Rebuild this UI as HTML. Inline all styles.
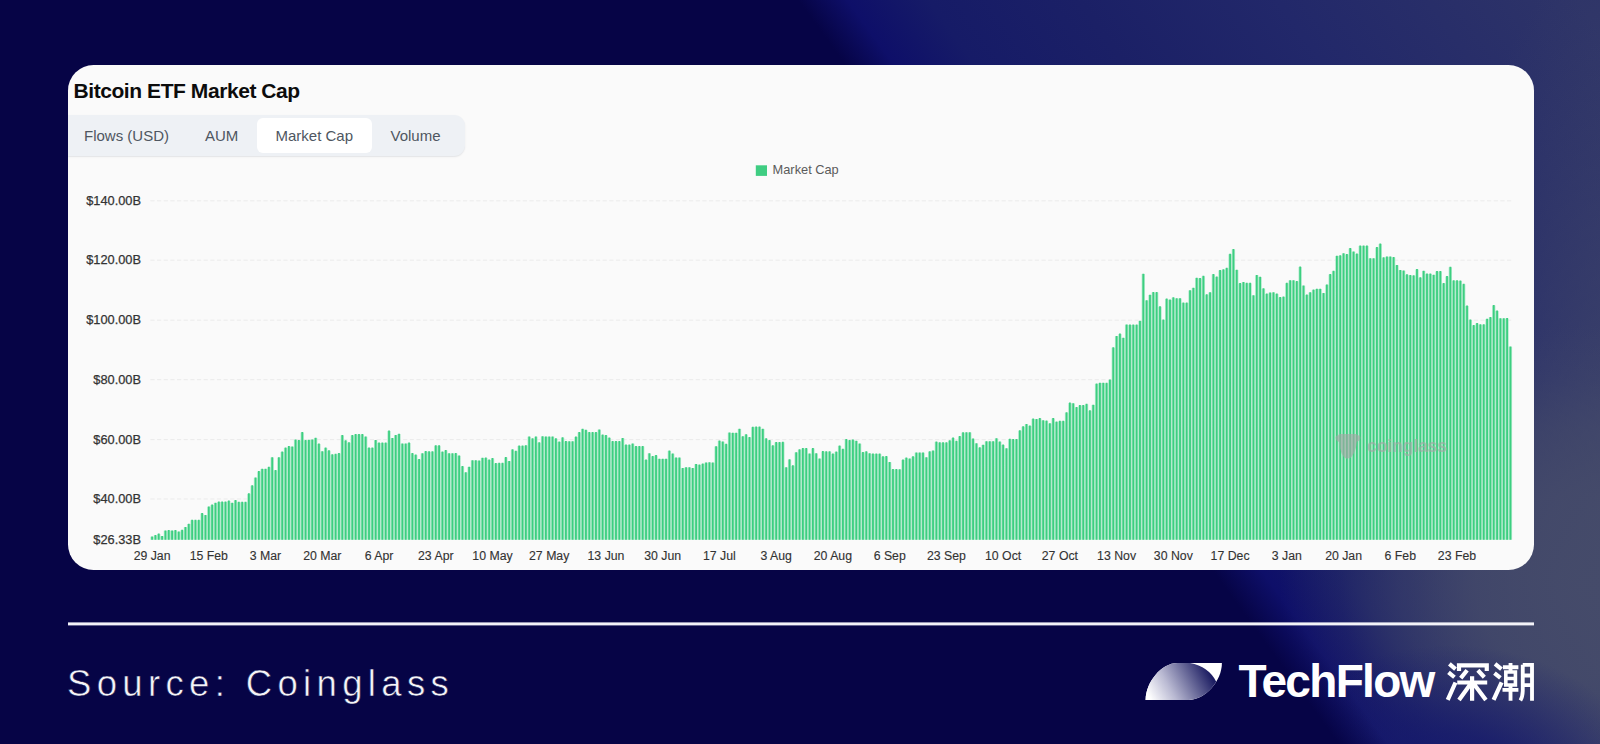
<!DOCTYPE html>
<html><head><meta charset="utf-8"><title>Bitcoin ETF Market Cap</title>
<style>
html,body{margin:0;padding:0}
body{width:1600px;height:744px;overflow:hidden;position:relative;font-family:"Liberation Sans",sans-serif;background:#060446}
#bg{position:absolute;left:0;top:0;width:1600px;height:744px;
background:
linear-gradient(54deg,#060446 0,#060446 1083px,rgba(6,4,70,0) 1123px),
radial-gradient(ellipse 200px 150px at 1450px 795px,rgba(22,26,108,.95) 0,rgba(22,26,108,.8) 40%,rgba(22,26,108,0) 100%),
radial-gradient(ellipse 300px 260px at 1580px 585px,rgba(70,76,106,.9) 0,rgba(70,76,106,.82) 35%,rgba(70,76,106,.55) 60%,rgba(70,76,106,.2) 80%,rgba(70,76,106,0) 100%),
radial-gradient(ellipse 230px 660px at 1640px 590px,rgba(70,76,106,.9) 0,rgba(70,76,106,.66) 30%,rgba(70,76,106,.38) 60%,rgba(70,76,106,.08) 90%,rgba(70,76,106,0) 100%),
linear-gradient(54deg,#0e0f69 1123px,#161b67 1188px,#1b2066 1310px,#22286a 1471px,#2e3468 1714px);}
#card{position:absolute;left:68px;top:65px;width:1466px;height:504.5px;background:#fafafa;border-radius:25.5px;overflow:hidden}
#title{position:absolute;left:5.5px;top:13.8px;font-weight:bold;font-size:21px;letter-spacing:-.43px;color:#0c0c0c;white-space:nowrap;line-height:24px}
#tabs{position:absolute;left:0;top:50px;width:397px;height:41px;background:#eef1f5;border-radius:0 11px 11px 0;box-shadow:0 1px 1.5px rgba(120,130,140,.18)}
#tabs span{position:absolute;top:0;height:41px;line-height:41px;font-size:15px;color:#4e5661;white-space:nowrap}
#act{position:absolute;left:188.5px;top:3.2px;width:115.5px;height:35.3px;background:#fff;border-radius:6px}
svg{position:absolute;left:0;top:0}
#src{position:absolute;left:67px;top:661.500px;font-size:36.5px;letter-spacing:5.35px;color:#f4f4f8;white-space:nowrap;line-height:44px;-webkit-text-stroke:.55px #060446}
#tf{position:absolute;left:1238.500px;top:656px;font-weight:bold;font-size:46px;letter-spacing:-1.7px;color:#fff;white-space:nowrap;line-height:50px}
</style></head><body>
<div id="bg"></div>
<div id="card">
<div id="title">Bitcoin ETF Market Cap</div>
<div id="tabs"><div id="act"></div><span style="left:16px">Flows (USD)</span><span style="left:137px">AUM</span><span style="left:207.5px">Market Cap</span><span style="left:322.5px">Volume</span></div>
</div>
<svg width="1600" height="744" viewBox="0 0 1600 744" font-family="Liberation Sans, sans-serif">
<g stroke="#ebebeb" stroke-width="1" stroke-dasharray="4.2 2.45"><line x1="150.4" x2="1512" y1="200.8" y2="200.8"/><line x1="150.4" x2="1512" y1="260.2" y2="260.2"/><line x1="150.4" x2="1512" y1="320.2" y2="320.2"/><line x1="150.4" x2="1512" y1="379.7" y2="379.7"/><line x1="150.4" x2="1512" y1="439.6" y2="439.6"/><line x1="150.4" x2="1512" y1="499.0" y2="499.0"/></g>
<g font-size="12.8" fill="#333" stroke="#333" stroke-width=".25" text-anchor="end"><text x="141" y="204.8">$140.00B</text><text x="141" y="264.2">$120.00B</text><text x="141" y="324.2">$100.00B</text><text x="141" y="383.7">$80.00B</text><text x="141" y="443.6">$60.00B</text><text x="141" y="503.0">$40.00B</text><text x="141" y="544.2">$26.33B</text></g>
<g font-size="12.3" fill="#333" stroke="#333" stroke-width=".12" text-anchor="middle"><text x="152.1" y="559.8">29 Jan</text><text x="208.8" y="559.8">15 Feb</text><text x="265.5" y="559.8">3 Mar</text><text x="322.3" y="559.8">20 Mar</text><text x="379.0" y="559.8">6 Apr</text><text x="435.8" y="559.8">23 Apr</text><text x="492.5" y="559.8">10 May</text><text x="549.2" y="559.8">27 May</text><text x="606.0" y="559.8">13 Jun</text><text x="662.7" y="559.8">30 Jun</text><text x="719.4" y="559.8">17 Jul</text><text x="776.2" y="559.8">3 Aug</text><text x="832.9" y="559.8">20 Aug</text><text x="889.7" y="559.8">6 Sep</text><text x="946.4" y="559.8">23 Sep</text><text x="1003.1" y="559.8">10 Oct</text><text x="1059.9" y="559.8">27 Oct</text><text x="1116.6" y="559.8">13 Nov</text><text x="1173.3" y="559.8">30 Nov</text><text x="1230.1" y="559.8">17 Dec</text><text x="1286.8" y="559.8">3 Jan</text><text x="1343.6" y="559.8">20 Jan</text><text x="1400.3" y="559.8">6 Feb</text><text x="1457.0" y="559.8">23 Feb</text></g>
<rect x="755.8" y="165.3" width="11.2" height="10.6" fill="#3fcd82"/>
<text x="772.6" y="173.9" font-size="12.8" fill="#5a5a5a">Market Cap</text>
<path d="M150.40 539.8V536.8h3.34V539.8zM153.74 539.8V535.4h3.34V539.8zM157.07 539.8V533.9h3.34V539.8zM160.41 539.8V536.3h3.34V539.8zM163.75 539.8V530.8h3.34V539.8zM167.09 539.8V530.4h3.34V539.8zM170.42 539.8V530.8h3.34V539.8zM173.76 539.8V530.4h3.34V539.8zM177.10 539.8V531.8h3.34V539.8zM180.44 539.8V530.2h3.34V539.8zM183.77 539.8V527.3h3.34V539.8zM187.11 539.8V524.1h3.34V539.8zM190.45 539.8V520.2h3.34V539.8zM193.79 539.8V520.2h3.34V539.8zM197.12 539.8V520.2h3.34V539.8zM200.46 539.8V513.4h3.34V539.8zM203.80 539.8V515.3h3.34V539.8zM207.14 539.8V506.8h3.34V539.8zM210.47 539.8V505.0h3.34V539.8zM213.81 539.8V503.1h3.34V539.8zM217.15 539.8V502.0h3.34V539.8zM220.49 539.8V502.0h3.34V539.8zM223.82 539.8V502.0h3.34V539.8zM227.16 539.8V500.9h3.34V539.8zM230.50 539.8V503.1h3.34V539.8zM233.84 539.8V500.5h3.34V539.8zM237.17 539.8V502.2h3.34V539.8zM240.51 539.8V502.2h3.34V539.8zM243.85 539.8V502.2h3.34V539.8zM247.19 539.8V493.7h3.34V539.8zM250.52 539.8V485.7h3.34V539.8zM253.86 539.8V477.8h3.34V539.8zM257.20 539.8V471.5h3.34V539.8zM260.54 539.8V469.1h3.34V539.8zM263.87 539.8V469.1h3.34V539.8zM267.21 539.8V467.2h3.34V539.8zM270.55 539.8V457.6h3.34V539.8zM273.89 539.8V470.4h3.34V539.8zM277.22 539.8V457.6h3.34V539.8zM280.56 539.8V452.0h3.34V539.8zM283.90 539.8V447.9h3.34V539.8zM287.24 539.8V446.5h3.34V539.8zM290.57 539.8V446.8h3.34V539.8zM293.91 539.8V439.8h3.34V539.8zM297.25 539.8V440.4h3.34V539.8zM300.59 539.8V432.4h3.34V539.8zM303.92 539.8V440.4h3.34V539.8zM307.26 539.8V440.1h3.34V539.8zM310.60 539.8V439.8h3.34V539.8zM313.94 539.8V438.1h3.34V539.8zM317.27 539.8V443.9h3.34V539.8zM320.61 539.8V451.6h3.34V539.8zM323.95 539.8V447.9h3.34V539.8zM327.29 539.8V450.7h3.34V539.8zM330.62 539.8V454.7h3.34V539.8zM333.96 539.8V454.2h3.34V539.8zM337.30 539.8V453.5h3.34V539.8zM340.64 539.8V435.4h3.34V539.8zM343.97 539.8V440.7h3.34V539.8zM347.31 539.8V442.7h3.34V539.8zM350.65 539.8V435.4h3.34V539.8zM353.99 539.8V434.4h3.34V539.8zM357.32 539.8V434.4h3.34V539.8zM360.66 539.8V434.4h3.34V539.8zM364.00 539.8V436.8h3.34V539.8zM367.34 539.8V447.9h3.34V539.8zM370.67 539.8V447.9h3.34V539.8zM374.01 539.8V440.3h3.34V539.8zM377.35 539.8V442.9h3.34V539.8zM380.69 539.8V442.9h3.34V539.8zM384.02 539.8V442.9h3.34V539.8zM387.36 539.8V430.9h3.34V539.8zM390.70 539.8V438.3h3.34V539.8zM394.04 539.8V435.3h3.34V539.8zM397.37 539.8V434.1h3.34V539.8zM400.71 539.8V443.8h3.34V539.8zM404.05 539.8V443.8h3.34V539.8zM407.39 539.8V442.9h3.34V539.8zM410.72 539.8V453.4h3.34V539.8zM414.06 539.8V454.9h3.34V539.8zM417.40 539.8V459.5h3.34V539.8zM420.74 539.8V453.6h3.34V539.8zM424.07 539.8V451.4h3.34V539.8zM427.41 539.8V451.7h3.34V539.8zM430.75 539.8V451.7h3.34V539.8zM434.09 539.8V445.7h3.34V539.8zM437.42 539.8V445.7h3.34V539.8zM440.76 539.8V451.9h3.34V539.8zM444.10 539.8V450.5h3.34V539.8zM447.44 539.8V453.6h3.34V539.8zM450.77 539.8V453.6h3.34V539.8zM454.11 539.8V453.4h3.34V539.8zM457.45 539.8V455.8h3.34V539.8zM460.79 539.8V466.5h3.34V539.8zM464.12 539.8V472.6h3.34V539.8zM467.46 539.8V467.1h3.34V539.8zM470.80 539.8V460.6h3.34V539.8zM474.14 539.8V460.6h3.34V539.8zM477.47 539.8V460.8h3.34V539.8zM480.81 539.8V458.1h3.34V539.8zM484.15 539.8V458.0h3.34V539.8zM487.49 539.8V460.0h3.34V539.8zM490.82 539.8V458.4h3.34V539.8zM494.16 539.8V463.4h3.34V539.8zM497.50 539.8V463.2h3.34V539.8zM500.84 539.8V463.2h3.34V539.8zM504.17 539.8V457.5h3.34V539.8zM507.51 539.8V461.3h3.34V539.8zM510.85 539.8V449.7h3.34V539.8zM514.19 539.8V451.2h3.34V539.8zM517.52 539.8V445.9h3.34V539.8zM520.86 539.8V445.9h3.34V539.8zM524.20 539.8V445.6h3.34V539.8zM527.54 539.8V436.8h3.34V539.8zM530.87 539.8V438.7h3.34V539.8zM534.21 539.8V436.8h3.34V539.8zM537.55 539.8V442.7h3.34V539.8zM540.89 539.8V436.6h3.34V539.8zM544.22 539.8V436.8h3.34V539.8zM547.56 539.8V436.8h3.34V539.8zM550.90 539.8V436.8h3.34V539.8zM554.24 539.8V438.7h3.34V539.8zM557.57 539.8V442.0h3.34V539.8zM560.91 539.8V437.7h3.34V539.8zM564.25 539.8V441.4h3.34V539.8zM567.59 539.8V441.6h3.34V539.8zM570.92 539.8V441.6h3.34V539.8zM574.26 539.8V437.0h3.34V539.8zM577.60 539.8V432.4h3.34V539.8zM580.94 539.8V429.1h3.34V539.8zM584.27 539.8V430.2h3.34V539.8zM587.61 539.8V432.5h3.34V539.8zM590.95 539.8V432.5h3.34V539.8zM594.29 539.8V432.5h3.34V539.8zM597.62 539.8V429.8h3.34V539.8zM600.96 539.8V435.0h3.34V539.8zM604.30 539.8V435.4h3.34V539.8zM607.64 539.8V438.0h3.34V539.8zM610.97 539.8V441.4h3.34V539.8zM614.31 539.8V441.4h3.34V539.8zM617.65 539.8V441.4h3.34V539.8zM620.99 539.8V438.3h3.34V539.8zM624.32 539.8V445.0h3.34V539.8zM627.66 539.8V445.0h3.34V539.8zM631.00 539.8V443.8h3.34V539.8zM634.34 539.8V446.4h3.34V539.8zM637.67 539.8V446.4h3.34V539.8zM641.01 539.8V446.4h3.34V539.8zM644.35 539.8V459.9h3.34V539.8zM647.69 539.8V453.6h3.34V539.8zM651.02 539.8V456.4h3.34V539.8zM654.36 539.8V455.5h3.34V539.8zM657.70 539.8V459.1h3.34V539.8zM661.04 539.8V459.1h3.34V539.8zM664.37 539.8V459.1h3.34V539.8zM667.71 539.8V451.0h3.34V539.8zM671.05 539.8V453.8h3.34V539.8zM674.39 539.8V457.8h3.34V539.8zM677.72 539.8V457.8h3.34V539.8zM681.06 539.8V468.3h3.34V539.8zM684.40 539.8V467.6h3.34V539.8zM687.74 539.8V467.6h3.34V539.8zM691.07 539.8V468.3h3.34V539.8zM694.41 539.8V464.3h3.34V539.8zM697.75 539.8V465.0h3.34V539.8zM701.09 539.8V463.9h3.34V539.8zM704.42 539.8V462.8h3.34V539.8zM707.76 539.8V462.6h3.34V539.8zM711.10 539.8V462.8h3.34V539.8zM714.44 539.8V446.6h3.34V539.8zM717.77 539.8V440.9h3.34V539.8zM721.11 539.8V441.8h3.34V539.8zM724.45 539.8V444.2h3.34V539.8zM727.79 539.8V432.8h3.34V539.8zM731.12 539.8V433.1h3.34V539.8zM734.46 539.8V433.1h3.34V539.8zM737.80 539.8V429.1h3.34V539.8zM741.14 539.8V436.6h3.34V539.8zM744.47 539.8V434.6h3.34V539.8zM747.81 539.8V437.4h3.34V539.8zM751.15 539.8V427.2h3.34V539.8zM754.49 539.8V427.0h3.34V539.8zM757.82 539.8V427.0h3.34V539.8zM761.16 539.8V429.1h3.34V539.8zM764.50 539.8V438.7h3.34V539.8zM767.84 539.8V440.5h3.34V539.8zM771.17 539.8V445.7h3.34V539.8zM774.51 539.8V442.5h3.34V539.8zM777.85 539.8V442.5h3.34V539.8zM781.19 539.8V442.2h3.34V539.8zM784.52 539.8V467.6h3.34V539.8zM787.86 539.8V459.7h3.34V539.8zM791.20 539.8V465.7h3.34V539.8zM794.54 539.8V452.6h3.34V539.8zM797.87 539.8V449.7h3.34V539.8zM801.21 539.8V448.5h3.34V539.8zM804.55 539.8V448.5h3.34V539.8zM807.89 539.8V453.8h3.34V539.8zM811.22 539.8V448.4h3.34V539.8zM814.56 539.8V453.6h3.34V539.8zM817.90 539.8V458.8h3.34V539.8zM821.24 539.8V451.4h3.34V539.8zM824.57 539.8V451.7h3.34V539.8zM827.91 539.8V451.7h3.34V539.8zM831.25 539.8V453.9h3.34V539.8zM834.59 539.8V452.0h3.34V539.8zM837.92 539.8V445.9h3.34V539.8zM841.26 539.8V449.2h3.34V539.8zM844.60 539.8V439.4h3.34V539.8zM847.94 539.8V440.5h3.34V539.8zM851.27 539.8V439.8h3.34V539.8zM854.61 539.8V441.1h3.34V539.8zM857.95 539.8V443.8h3.34V539.8zM861.29 539.8V452.5h3.34V539.8zM864.62 539.8V451.7h3.34V539.8zM867.96 539.8V453.6h3.34V539.8zM871.30 539.8V453.9h3.34V539.8zM874.64 539.8V453.9h3.34V539.8zM877.97 539.8V453.9h3.34V539.8zM881.31 539.8V456.7h3.34V539.8zM884.65 539.8V456.4h3.34V539.8zM887.99 539.8V462.3h3.34V539.8zM891.32 539.8V469.5h3.34V539.8zM894.66 539.8V469.5h3.34V539.8zM898.00 539.8V469.6h3.34V539.8zM901.34 539.8V460.0h3.34V539.8zM904.67 539.8V457.9h3.34V539.8zM908.01 539.8V458.8h3.34V539.8zM911.35 539.8V456.7h3.34V539.8zM914.69 539.8V452.8h3.34V539.8zM918.02 539.8V452.8h3.34V539.8zM921.36 539.8V452.8h3.34V539.8zM924.70 539.8V457.6h3.34V539.8zM928.04 539.8V451.7h3.34V539.8zM931.37 539.8V450.8h3.34V539.8zM934.71 539.8V442.0h3.34V539.8zM938.05 539.8V442.7h3.34V539.8zM941.39 539.8V442.7h3.34V539.8zM944.72 539.8V442.7h3.34V539.8zM948.06 539.8V440.7h3.34V539.8zM951.40 539.8V437.9h3.34V539.8zM954.74 539.8V441.2h3.34V539.8zM958.07 539.8V436.4h3.34V539.8zM961.41 539.8V432.7h3.34V539.8zM964.75 539.8V432.6h3.34V539.8zM968.09 539.8V432.6h3.34V539.8zM971.42 539.8V438.8h3.34V539.8zM974.76 539.8V443.6h3.34V539.8zM978.10 539.8V447.7h3.34V539.8zM981.44 539.8V445.1h3.34V539.8zM984.77 539.8V441.6h3.34V539.8zM988.11 539.8V441.6h3.34V539.8zM991.45 539.8V441.6h3.34V539.8zM994.79 539.8V438.6h3.34V539.8zM998.12 539.8V441.8h3.34V539.8zM1001.46 539.8V444.9h3.34V539.8zM1004.80 539.8V448.6h3.34V539.8zM1008.14 539.8V439.1h3.34V539.8zM1011.47 539.8V439.4h3.34V539.8zM1014.81 539.8V439.4h3.34V539.8zM1018.15 539.8V430.7h3.34V539.8zM1021.49 539.8V426.7h3.34V539.8zM1024.82 539.8V424.3h3.34V539.8zM1028.16 539.8V426.0h3.34V539.8zM1031.50 539.8V419.0h3.34V539.8zM1034.84 539.8V419.3h3.34V539.8zM1038.17 539.8V418.4h3.34V539.8zM1041.51 539.8V420.6h3.34V539.8zM1044.85 539.8V421.0h3.34V539.8zM1048.19 539.8V423.6h3.34V539.8zM1051.52 539.8V418.4h3.34V539.8zM1054.86 539.8V421.9h3.34V539.8zM1058.20 539.8V421.2h3.34V539.8zM1061.54 539.8V421.2h3.34V539.8zM1064.87 539.8V412.7h3.34V539.8zM1068.21 539.8V402.9h3.34V539.8zM1071.55 539.8V403.6h3.34V539.8zM1074.89 539.8V407.5h3.34V539.8zM1078.22 539.8V405.5h3.34V539.8zM1081.56 539.8V405.5h3.34V539.8zM1084.90 539.8V404.2h3.34V539.8zM1088.24 539.8V410.7h3.34V539.8zM1091.57 539.8V405.1h3.34V539.8zM1094.91 539.8V383.9h3.34V539.8zM1098.25 539.8V383.1h3.34V539.8zM1101.59 539.8V383.1h3.34V539.8zM1104.92 539.8V383.2h3.34V539.8zM1108.26 539.8V380.0h3.34V539.8zM1111.60 539.8V347.7h3.34V539.8zM1114.94 539.8V336.3h3.34V539.8zM1118.27 539.8V333.9h3.34V539.8zM1121.61 539.8V338.1h3.34V539.8zM1124.95 539.8V324.8h3.34V539.8zM1128.29 539.8V325.0h3.34V539.8zM1131.62 539.8V325.0h3.34V539.8zM1134.96 539.8V325.0h3.34V539.8zM1138.30 539.8V321.1h3.34V539.8zM1141.64 539.8V274.1h3.34V539.8zM1144.97 539.8V300.6h3.34V539.8zM1148.31 539.8V295.1h3.34V539.8zM1151.65 539.8V292.5h3.34V539.8zM1154.99 539.8V292.5h3.34V539.8zM1158.32 539.8V306.7h3.34V539.8zM1161.66 539.8V320.0h3.34V539.8zM1165.00 539.8V298.9h3.34V539.8zM1168.34 539.8V299.9h3.34V539.8zM1171.67 539.8V297.7h3.34V539.8zM1175.01 539.8V298.6h3.34V539.8zM1178.35 539.8V298.6h3.34V539.8zM1181.69 539.8V303.0h3.34V539.8zM1185.02 539.8V303.0h3.34V539.8zM1188.36 539.8V290.6h3.34V539.8zM1191.70 539.8V288.1h3.34V539.8zM1195.04 539.8V278.1h3.34V539.8zM1198.37 539.8V278.4h3.34V539.8zM1201.71 539.8V276.2h3.34V539.8zM1205.05 539.8V294.7h3.34V539.8zM1208.39 539.8V292.6h3.34V539.8zM1211.72 539.8V274.5h3.34V539.8zM1215.06 539.8V276.9h3.34V539.8zM1218.40 539.8V270.5h3.34V539.8zM1221.74 539.8V269.7h3.34V539.8zM1225.07 539.8V268.2h3.34V539.8zM1228.41 539.8V254.2h3.34V539.8zM1231.75 539.8V249.4h3.34V539.8zM1235.09 539.8V270.1h3.34V539.8zM1238.42 539.8V283.4h3.34V539.8zM1241.76 539.8V282.3h3.34V539.8zM1245.10 539.8V283.2h3.34V539.8zM1248.44 539.8V283.2h3.34V539.8zM1251.77 539.8V295.6h3.34V539.8zM1255.11 539.8V275.3h3.34V539.8zM1258.45 539.8V277.1h3.34V539.8zM1261.79 539.8V288.7h3.34V539.8zM1265.12 539.8V294.0h3.34V539.8zM1268.46 539.8V292.8h3.34V539.8zM1271.80 539.8V292.6h3.34V539.8zM1275.14 539.8V293.9h3.34V539.8zM1278.47 539.8V297.4h3.34V539.8zM1281.81 539.8V297.0h3.34V539.8zM1285.15 539.8V283.2h3.34V539.8zM1288.49 539.8V280.6h3.34V539.8zM1291.82 539.8V280.6h3.34V539.8zM1295.16 539.8V281.5h3.34V539.8zM1298.50 539.8V267.0h3.34V539.8zM1301.84 539.8V285.8h3.34V539.8zM1305.17 539.8V295.0h3.34V539.8zM1308.51 539.8V292.6h3.34V539.8zM1311.85 539.8V290.0h3.34V539.8zM1315.19 539.8V289.1h3.34V539.8zM1318.52 539.8V289.1h3.34V539.8zM1321.86 539.8V293.3h3.34V539.8zM1325.20 539.8V284.8h3.34V539.8zM1328.54 539.8V274.5h3.34V539.8zM1331.87 539.8V271.2h3.34V539.8zM1335.21 539.8V256.1h3.34V539.8zM1338.55 539.8V255.7h3.34V539.8zM1341.89 539.8V253.6h3.34V539.8zM1345.22 539.8V254.4h3.34V539.8zM1348.56 539.8V248.5h3.34V539.8zM1351.90 539.8V251.8h3.34V539.8zM1355.24 539.8V253.9h3.34V539.8zM1358.57 539.8V245.9h3.34V539.8zM1361.91 539.8V245.9h3.34V539.8zM1365.25 539.8V245.9h3.34V539.8zM1368.59 539.8V258.6h3.34V539.8zM1371.92 539.8V258.6h3.34V539.8zM1375.26 539.8V247.5h3.34V539.8zM1378.60 539.8V244.0h3.34V539.8zM1381.94 539.8V257.7h3.34V539.8zM1385.27 539.8V256.8h3.34V539.8zM1388.61 539.8V256.8h3.34V539.8zM1391.95 539.8V257.4h3.34V539.8zM1395.29 539.8V265.3h3.34V539.8zM1398.62 539.8V270.3h3.34V539.8zM1401.96 539.8V270.8h3.34V539.8zM1405.30 539.8V274.7h3.34V539.8zM1408.64 539.8V275.5h3.34V539.8zM1411.97 539.8V275.7h3.34V539.8zM1415.31 539.8V269.4h3.34V539.8zM1418.65 539.8V277.7h3.34V539.8zM1421.99 539.8V271.1h3.34V539.8zM1425.32 539.8V273.9h3.34V539.8zM1428.66 539.8V273.9h3.34V539.8zM1432.00 539.8V275.1h3.34V539.8zM1435.34 539.8V271.4h3.34V539.8zM1438.67 539.8V271.4h3.34V539.8zM1442.01 539.8V283.5h3.34V539.8zM1445.35 539.8V276.4h3.34V539.8zM1448.69 539.8V267.2h3.34V539.8zM1452.02 539.8V280.7h3.34V539.8zM1455.36 539.8V280.7h3.34V539.8zM1458.70 539.8V281.0h3.34V539.8zM1462.04 539.8V284.2h3.34V539.8zM1465.37 539.8V305.9h3.34V539.8zM1468.71 539.8V320.0h3.34V539.8zM1472.05 539.8V325.5h3.34V539.8zM1475.39 539.8V323.4h3.34V539.8zM1478.72 539.8V324.7h3.34V539.8zM1482.06 539.8V324.7h3.34V539.8zM1485.40 539.8V319.2h3.34V539.8zM1488.74 539.8V317.5h3.34V539.8zM1492.07 539.8V305.4h3.34V539.8zM1495.41 539.8V310.9h3.34V539.8zM1498.75 539.8V318.6h3.34V539.8zM1502.09 539.8V318.6h3.34V539.8zM1505.42 539.8V318.4h3.34V539.8zM1508.76 539.8V346.8h3.34V539.8z" fill="#b4eace"/>
<path d="M151.17 539.8V536.4h1.8V539.8zM154.51 539.8V535.0h1.8V539.8zM157.84 539.8V533.5h1.8V539.8zM161.18 539.8V535.9h1.8V539.8zM164.52 539.8V530.4h1.8V539.8zM167.86 539.8V530.0h1.8V539.8zM171.19 539.8V530.4h1.8V539.8zM174.53 539.8V530.0h1.8V539.8zM177.87 539.8V531.4h1.8V539.8zM181.21 539.8V529.8h1.8V539.8zM184.54 539.8V526.9h1.8V539.8zM187.88 539.8V523.7h1.8V539.8zM191.22 539.8V519.8h1.8V539.8zM194.56 539.8V519.8h1.8V539.8zM197.89 539.8V519.8h1.8V539.8zM201.23 539.8V513.0h1.8V539.8zM204.57 539.8V514.9h1.8V539.8zM207.91 539.8V506.4h1.8V539.8zM211.24 539.8V504.6h1.8V539.8zM214.58 539.8V502.7h1.8V539.8zM217.92 539.8V501.6h1.8V539.8zM221.26 539.8V501.6h1.8V539.8zM224.59 539.8V501.6h1.8V539.8zM227.93 539.8V500.5h1.8V539.8zM231.27 539.8V502.7h1.8V539.8zM234.61 539.8V500.1h1.8V539.8zM237.94 539.8V501.8h1.8V539.8zM241.28 539.8V501.8h1.8V539.8zM244.62 539.8V501.8h1.8V539.8zM247.96 539.8V493.3h1.8V539.8zM251.29 539.8V485.3h1.8V539.8zM254.63 539.8V477.4h1.8V539.8zM257.97 539.8V471.1h1.8V539.8zM261.31 539.8V468.7h1.8V539.8zM264.64 539.8V468.7h1.8V539.8zM267.98 539.8V466.8h1.8V539.8zM271.32 539.8V457.2h1.8V539.8zM274.66 539.8V470.0h1.8V539.8zM277.99 539.8V457.2h1.8V539.8zM281.33 539.8V451.6h1.8V539.8zM284.67 539.8V447.5h1.8V539.8zM288.01 539.8V446.1h1.8V539.8zM291.34 539.8V446.4h1.8V539.8zM294.68 539.8V439.4h1.8V539.8zM298.02 539.8V440.0h1.8V539.8zM301.36 539.8V432.0h1.8V539.8zM304.69 539.8V440.0h1.8V539.8zM308.03 539.8V439.7h1.8V539.8zM311.37 539.8V439.4h1.8V539.8zM314.71 539.8V437.7h1.8V539.8zM318.04 539.8V443.5h1.8V539.8zM321.38 539.8V451.2h1.8V539.8zM324.72 539.8V447.5h1.8V539.8zM328.06 539.8V450.3h1.8V539.8zM331.39 539.8V454.3h1.8V539.8zM334.73 539.8V453.8h1.8V539.8zM338.07 539.8V453.1h1.8V539.8zM341.41 539.8V435.0h1.8V539.8zM344.74 539.8V440.3h1.8V539.8zM348.08 539.8V442.3h1.8V539.8zM351.42 539.8V435.0h1.8V539.8zM354.76 539.8V434.0h1.8V539.8zM358.09 539.8V434.0h1.8V539.8zM361.43 539.8V434.0h1.8V539.8zM364.77 539.8V436.4h1.8V539.8zM368.11 539.8V447.5h1.8V539.8zM371.44 539.8V447.5h1.8V539.8zM374.78 539.8V439.9h1.8V539.8zM378.12 539.8V442.5h1.8V539.8zM381.46 539.8V442.5h1.8V539.8zM384.79 539.8V442.5h1.8V539.8zM388.13 539.8V430.5h1.8V539.8zM391.47 539.8V437.9h1.8V539.8zM394.81 539.8V434.9h1.8V539.8zM398.14 539.8V433.7h1.8V539.8zM401.48 539.8V443.4h1.8V539.8zM404.82 539.8V443.4h1.8V539.8zM408.16 539.8V442.5h1.8V539.8zM411.49 539.8V453.0h1.8V539.8zM414.83 539.8V454.5h1.8V539.8zM418.17 539.8V459.1h1.8V539.8zM421.51 539.8V453.2h1.8V539.8zM424.84 539.8V451.0h1.8V539.8zM428.18 539.8V451.3h1.8V539.8zM431.52 539.8V451.3h1.8V539.8zM434.86 539.8V445.3h1.8V539.8zM438.19 539.8V445.3h1.8V539.8zM441.53 539.8V451.5h1.8V539.8zM444.87 539.8V450.1h1.8V539.8zM448.21 539.8V453.2h1.8V539.8zM451.54 539.8V453.2h1.8V539.8zM454.88 539.8V453.0h1.8V539.8zM458.22 539.8V455.4h1.8V539.8zM461.56 539.8V466.1h1.8V539.8zM464.89 539.8V472.2h1.8V539.8zM468.23 539.8V466.7h1.8V539.8zM471.57 539.8V460.2h1.8V539.8zM474.91 539.8V460.2h1.8V539.8zM478.24 539.8V460.4h1.8V539.8zM481.58 539.8V457.7h1.8V539.8zM484.92 539.8V457.6h1.8V539.8zM488.26 539.8V459.6h1.8V539.8zM491.59 539.8V458.0h1.8V539.8zM494.93 539.8V463.0h1.8V539.8zM498.27 539.8V462.8h1.8V539.8zM501.61 539.8V462.8h1.8V539.8zM504.94 539.8V457.1h1.8V539.8zM508.28 539.8V460.9h1.8V539.8zM511.62 539.8V449.3h1.8V539.8zM514.96 539.8V450.8h1.8V539.8zM518.29 539.8V445.5h1.8V539.8zM521.63 539.8V445.5h1.8V539.8zM524.97 539.8V445.2h1.8V539.8zM528.31 539.8V436.4h1.8V539.8zM531.64 539.8V438.3h1.8V539.8zM534.98 539.8V436.4h1.8V539.8zM538.32 539.8V442.3h1.8V539.8zM541.66 539.8V436.2h1.8V539.8zM544.99 539.8V436.4h1.8V539.8zM548.33 539.8V436.4h1.8V539.8zM551.67 539.8V436.4h1.8V539.8zM555.01 539.8V438.3h1.8V539.8zM558.34 539.8V441.6h1.8V539.8zM561.68 539.8V437.3h1.8V539.8zM565.02 539.8V441.0h1.8V539.8zM568.36 539.8V441.2h1.8V539.8zM571.69 539.8V441.2h1.8V539.8zM575.03 539.8V436.6h1.8V539.8zM578.37 539.8V432.0h1.8V539.8zM581.71 539.8V428.7h1.8V539.8zM585.04 539.8V429.8h1.8V539.8zM588.38 539.8V432.1h1.8V539.8zM591.72 539.8V432.1h1.8V539.8zM595.06 539.8V432.1h1.8V539.8zM598.39 539.8V429.4h1.8V539.8zM601.73 539.8V434.6h1.8V539.8zM605.07 539.8V435.0h1.8V539.8zM608.41 539.8V437.6h1.8V539.8zM611.74 539.8V441.0h1.8V539.8zM615.08 539.8V441.0h1.8V539.8zM618.42 539.8V441.0h1.8V539.8zM621.76 539.8V437.9h1.8V539.8zM625.09 539.8V444.6h1.8V539.8zM628.43 539.8V444.6h1.8V539.8zM631.77 539.8V443.4h1.8V539.8zM635.11 539.8V446.0h1.8V539.8zM638.44 539.8V446.0h1.8V539.8zM641.78 539.8V446.0h1.8V539.8zM645.12 539.8V459.5h1.8V539.8zM648.46 539.8V453.2h1.8V539.8zM651.79 539.8V456.0h1.8V539.8zM655.13 539.8V455.1h1.8V539.8zM658.47 539.8V458.7h1.8V539.8zM661.81 539.8V458.7h1.8V539.8zM665.14 539.8V458.7h1.8V539.8zM668.48 539.8V450.6h1.8V539.8zM671.82 539.8V453.4h1.8V539.8zM675.16 539.8V457.4h1.8V539.8zM678.49 539.8V457.4h1.8V539.8zM681.83 539.8V467.9h1.8V539.8zM685.17 539.8V467.2h1.8V539.8zM688.51 539.8V467.2h1.8V539.8zM691.84 539.8V467.9h1.8V539.8zM695.18 539.8V463.9h1.8V539.8zM698.52 539.8V464.6h1.8V539.8zM701.86 539.8V463.5h1.8V539.8zM705.19 539.8V462.4h1.8V539.8zM708.53 539.8V462.2h1.8V539.8zM711.87 539.8V462.4h1.8V539.8zM715.21 539.8V446.2h1.8V539.8zM718.54 539.8V440.5h1.8V539.8zM721.88 539.8V441.4h1.8V539.8zM725.22 539.8V443.8h1.8V539.8zM728.56 539.8V432.4h1.8V539.8zM731.89 539.8V432.7h1.8V539.8zM735.23 539.8V432.7h1.8V539.8zM738.57 539.8V428.7h1.8V539.8zM741.91 539.8V436.2h1.8V539.8zM745.24 539.8V434.2h1.8V539.8zM748.58 539.8V437.0h1.8V539.8zM751.92 539.8V426.8h1.8V539.8zM755.26 539.8V426.6h1.8V539.8zM758.59 539.8V426.6h1.8V539.8zM761.93 539.8V428.7h1.8V539.8zM765.27 539.8V438.3h1.8V539.8zM768.61 539.8V440.1h1.8V539.8zM771.94 539.8V445.3h1.8V539.8zM775.28 539.8V442.1h1.8V539.8zM778.62 539.8V442.1h1.8V539.8zM781.96 539.8V441.8h1.8V539.8zM785.29 539.8V467.2h1.8V539.8zM788.63 539.8V459.3h1.8V539.8zM791.97 539.8V465.3h1.8V539.8zM795.31 539.8V452.2h1.8V539.8zM798.64 539.8V449.3h1.8V539.8zM801.98 539.8V448.1h1.8V539.8zM805.32 539.8V448.1h1.8V539.8zM808.66 539.8V453.4h1.8V539.8zM811.99 539.8V448.0h1.8V539.8zM815.33 539.8V453.2h1.8V539.8zM818.67 539.8V458.4h1.8V539.8zM822.01 539.8V451.0h1.8V539.8zM825.34 539.8V451.3h1.8V539.8zM828.68 539.8V451.3h1.8V539.8zM832.02 539.8V453.5h1.8V539.8zM835.36 539.8V451.6h1.8V539.8zM838.69 539.8V445.5h1.8V539.8zM842.03 539.8V448.8h1.8V539.8zM845.37 539.8V439.0h1.8V539.8zM848.71 539.8V440.1h1.8V539.8zM852.04 539.8V439.4h1.8V539.8zM855.38 539.8V440.7h1.8V539.8zM858.72 539.8V443.4h1.8V539.8zM862.06 539.8V452.1h1.8V539.8zM865.39 539.8V451.3h1.8V539.8zM868.73 539.8V453.2h1.8V539.8zM872.07 539.8V453.5h1.8V539.8zM875.41 539.8V453.5h1.8V539.8zM878.74 539.8V453.5h1.8V539.8zM882.08 539.8V456.3h1.8V539.8zM885.42 539.8V456.0h1.8V539.8zM888.76 539.8V461.9h1.8V539.8zM892.09 539.8V469.1h1.8V539.8zM895.43 539.8V469.1h1.8V539.8zM898.77 539.8V469.2h1.8V539.8zM902.11 539.8V459.6h1.8V539.8zM905.44 539.8V457.5h1.8V539.8zM908.78 539.8V458.4h1.8V539.8zM912.12 539.8V456.3h1.8V539.8zM915.46 539.8V452.4h1.8V539.8zM918.79 539.8V452.4h1.8V539.8zM922.13 539.8V452.4h1.8V539.8zM925.47 539.8V457.2h1.8V539.8zM928.81 539.8V451.3h1.8V539.8zM932.14 539.8V450.4h1.8V539.8zM935.48 539.8V441.6h1.8V539.8zM938.82 539.8V442.3h1.8V539.8zM942.16 539.8V442.3h1.8V539.8zM945.49 539.8V442.3h1.8V539.8zM948.83 539.8V440.3h1.8V539.8zM952.17 539.8V437.5h1.8V539.8zM955.51 539.8V440.8h1.8V539.8zM958.84 539.8V436.0h1.8V539.8zM962.18 539.8V432.3h1.8V539.8zM965.52 539.8V432.2h1.8V539.8zM968.86 539.8V432.2h1.8V539.8zM972.19 539.8V438.4h1.8V539.8zM975.53 539.8V443.2h1.8V539.8zM978.87 539.8V447.3h1.8V539.8zM982.21 539.8V444.7h1.8V539.8zM985.54 539.8V441.2h1.8V539.8zM988.88 539.8V441.2h1.8V539.8zM992.22 539.8V441.2h1.8V539.8zM995.56 539.8V438.2h1.8V539.8zM998.89 539.8V441.4h1.8V539.8zM1002.23 539.8V444.5h1.8V539.8zM1005.57 539.8V448.2h1.8V539.8zM1008.91 539.8V438.7h1.8V539.8zM1012.24 539.8V439.0h1.8V539.8zM1015.58 539.8V439.0h1.8V539.8zM1018.92 539.8V430.3h1.8V539.8zM1022.26 539.8V426.3h1.8V539.8zM1025.59 539.8V423.9h1.8V539.8zM1028.93 539.8V425.6h1.8V539.8zM1032.27 539.8V418.6h1.8V539.8zM1035.61 539.8V418.9h1.8V539.8zM1038.94 539.8V418.0h1.8V539.8zM1042.28 539.8V420.2h1.8V539.8zM1045.62 539.8V420.6h1.8V539.8zM1048.96 539.8V423.2h1.8V539.8zM1052.29 539.8V418.0h1.8V539.8zM1055.63 539.8V421.5h1.8V539.8zM1058.97 539.8V420.8h1.8V539.8zM1062.31 539.8V420.8h1.8V539.8zM1065.64 539.8V412.3h1.8V539.8zM1068.98 539.8V402.5h1.8V539.8zM1072.32 539.8V403.2h1.8V539.8zM1075.66 539.8V407.1h1.8V539.8zM1078.99 539.8V405.1h1.8V539.8zM1082.33 539.8V405.1h1.8V539.8zM1085.67 539.8V403.8h1.8V539.8zM1089.01 539.8V410.3h1.8V539.8zM1092.34 539.8V404.7h1.8V539.8zM1095.68 539.8V383.5h1.8V539.8zM1099.02 539.8V382.7h1.8V539.8zM1102.36 539.8V382.7h1.8V539.8zM1105.69 539.8V382.8h1.8V539.8zM1109.03 539.8V379.6h1.8V539.8zM1112.37 539.8V347.3h1.8V539.8zM1115.71 539.8V335.9h1.8V539.8zM1119.04 539.8V333.5h1.8V539.8zM1122.38 539.8V337.7h1.8V539.8zM1125.72 539.8V324.4h1.8V539.8zM1129.06 539.8V324.6h1.8V539.8zM1132.39 539.8V324.6h1.8V539.8zM1135.73 539.8V324.6h1.8V539.8zM1139.07 539.8V320.7h1.8V539.8zM1142.41 539.8V273.7h1.8V539.8zM1145.74 539.8V300.2h1.8V539.8zM1149.08 539.8V294.7h1.8V539.8zM1152.42 539.8V292.1h1.8V539.8zM1155.76 539.8V292.1h1.8V539.8zM1159.09 539.8V306.3h1.8V539.8zM1162.43 539.8V319.6h1.8V539.8zM1165.77 539.8V298.5h1.8V539.8zM1169.11 539.8V299.5h1.8V539.8zM1172.44 539.8V297.3h1.8V539.8zM1175.78 539.8V298.2h1.8V539.8zM1179.12 539.8V298.2h1.8V539.8zM1182.46 539.8V302.6h1.8V539.8zM1185.79 539.8V302.6h1.8V539.8zM1189.13 539.8V290.2h1.8V539.8zM1192.47 539.8V287.7h1.8V539.8zM1195.81 539.8V277.7h1.8V539.8zM1199.14 539.8V278.0h1.8V539.8zM1202.48 539.8V275.8h1.8V539.8zM1205.82 539.8V294.3h1.8V539.8zM1209.16 539.8V292.2h1.8V539.8zM1212.49 539.8V274.1h1.8V539.8zM1215.83 539.8V276.5h1.8V539.8zM1219.17 539.8V270.1h1.8V539.8zM1222.51 539.8V269.3h1.8V539.8zM1225.84 539.8V267.8h1.8V539.8zM1229.18 539.8V253.8h1.8V539.8zM1232.52 539.8V249.0h1.8V539.8zM1235.86 539.8V269.7h1.8V539.8zM1239.19 539.8V283.0h1.8V539.8zM1242.53 539.8V281.9h1.8V539.8zM1245.87 539.8V282.8h1.8V539.8zM1249.21 539.8V282.8h1.8V539.8zM1252.54 539.8V295.2h1.8V539.8zM1255.88 539.8V274.9h1.8V539.8zM1259.22 539.8V276.7h1.8V539.8zM1262.56 539.8V288.3h1.8V539.8zM1265.89 539.8V293.6h1.8V539.8zM1269.23 539.8V292.4h1.8V539.8zM1272.57 539.8V292.2h1.8V539.8zM1275.91 539.8V293.5h1.8V539.8zM1279.24 539.8V297.0h1.8V539.8zM1282.58 539.8V296.6h1.8V539.8zM1285.92 539.8V282.8h1.8V539.8zM1289.26 539.8V280.2h1.8V539.8zM1292.59 539.8V280.2h1.8V539.8zM1295.93 539.8V281.1h1.8V539.8zM1299.27 539.8V266.6h1.8V539.8zM1302.61 539.8V285.4h1.8V539.8zM1305.94 539.8V294.6h1.8V539.8zM1309.28 539.8V292.2h1.8V539.8zM1312.62 539.8V289.6h1.8V539.8zM1315.96 539.8V288.7h1.8V539.8zM1319.29 539.8V288.7h1.8V539.8zM1322.63 539.8V292.9h1.8V539.8zM1325.97 539.8V284.4h1.8V539.8zM1329.31 539.8V274.1h1.8V539.8zM1332.64 539.8V270.8h1.8V539.8zM1335.98 539.8V255.7h1.8V539.8zM1339.32 539.8V255.3h1.8V539.8zM1342.66 539.8V253.2h1.8V539.8zM1345.99 539.8V254.0h1.8V539.8zM1349.33 539.8V248.1h1.8V539.8zM1352.67 539.8V251.4h1.8V539.8zM1356.01 539.8V253.5h1.8V539.8zM1359.34 539.8V245.5h1.8V539.8zM1362.68 539.8V245.5h1.8V539.8zM1366.02 539.8V245.5h1.8V539.8zM1369.36 539.8V258.2h1.8V539.8zM1372.69 539.8V258.2h1.8V539.8zM1376.03 539.8V247.1h1.8V539.8zM1379.37 539.8V243.6h1.8V539.8zM1382.71 539.8V257.3h1.8V539.8zM1386.04 539.8V256.4h1.8V539.8zM1389.38 539.8V256.4h1.8V539.8zM1392.72 539.8V257.0h1.8V539.8zM1396.06 539.8V264.9h1.8V539.8zM1399.39 539.8V269.9h1.8V539.8zM1402.73 539.8V270.4h1.8V539.8zM1406.07 539.8V274.3h1.8V539.8zM1409.41 539.8V275.1h1.8V539.8zM1412.74 539.8V275.3h1.8V539.8zM1416.08 539.8V269.0h1.8V539.8zM1419.42 539.8V277.3h1.8V539.8zM1422.76 539.8V270.7h1.8V539.8zM1426.09 539.8V273.5h1.8V539.8zM1429.43 539.8V273.5h1.8V539.8zM1432.77 539.8V274.7h1.8V539.8zM1436.11 539.8V271.0h1.8V539.8zM1439.44 539.8V271.0h1.8V539.8zM1442.78 539.8V283.1h1.8V539.8zM1446.12 539.8V276.0h1.8V539.8zM1449.46 539.8V266.8h1.8V539.8zM1452.79 539.8V280.3h1.8V539.8zM1456.13 539.8V280.3h1.8V539.8zM1459.47 539.8V280.6h1.8V539.8zM1462.81 539.8V283.8h1.8V539.8zM1466.14 539.8V305.5h1.8V539.8zM1469.48 539.8V319.6h1.8V539.8zM1472.82 539.8V325.1h1.8V539.8zM1476.16 539.8V323.0h1.8V539.8zM1479.49 539.8V324.3h1.8V539.8zM1482.83 539.8V324.3h1.8V539.8zM1486.17 539.8V318.8h1.8V539.8zM1489.51 539.8V317.1h1.8V539.8zM1492.84 539.8V305.0h1.8V539.8zM1496.18 539.8V310.5h1.8V539.8zM1499.52 539.8V318.2h1.8V539.8zM1502.86 539.8V318.2h1.8V539.8zM1506.19 539.8V318.0h1.8V539.8zM1509.53 539.8V346.4h1.8V539.8z" fill="#3ccf80"/>
<g id="wm" opacity=".62" fill="#a6a6a6">
<path d="M1339.500 434h16.500q1 0 1.500 1.200 3-.4 3 2.300 0 3.200-3.600 4.200-.6 8.300-4.700 14.300-1.500 2.300-3.200 2.600-.7-.9-1.500-.2-.8.700-1.600.1-2.600-1.100-4.300-5-2-4.700-2.400-11.600-3.600-1-3.600-4.300 0-2.600 2.900-2.400.4-1.200 1-1.200z"/>
<text x="1367" y="452.3" font-size="17.6" font-weight="bold" letter-spacing="-.15">coinglass</text>
</g>
<rect x="68" y="622.4" width="1466" height="3" fill="#f3f3f8"/>
<defs><linearGradient id="lg" x1="1150" y1="699" x2="1207" y2="668" gradientUnits="userSpaceOnUse"><stop offset="0" stop-color="#fff"/><stop offset=".35" stop-color="#b9b9d2"/><stop offset="1" stop-color="#1c1d62"/></linearGradient></defs>
<path d="M1145.600 700C1145.600 682.500 1161.200 663.100 1177.500 663.100H1221.900C1221.900 681.200 1205 700 1188.750 700Z" fill="#fff"/>
<path d="M1145.600 700C1145.600 682.500 1161.200 663.100 1177.500 663.100H1190Q1208.500 666.500 1216.250 681.800C1210 692.500 1199 700 1188.750 700Z" fill="url(#lg)"/>
<g transform="translate(1430 650) scale(.08734)" stroke="#fff" stroke-width="48" fill="none" stroke-linecap="butt" stroke-linejoin="miter">
<!-- shen -->
<path d="M222 158L292 218M212 255L280 312M203 572L292 372"/>
<path d="M332 240V177H650V240"/>
<path d="M425 232L352 322M548 232L622 312"/>
<path d="M312 372H655M482 300V580M462 392L332 572M505 392L640 572"/>
<!-- chao -->
<path d="M745 158L818 218M738 265L806 320M728 572L820 372"/>
<path d="M835 197H1012M922 150V250M830 457H1012M922 400V582" stroke-width="44"/>
<path d="M868 252H978V400H868ZM868 326H978" stroke-width="41"/>
<path d="M1062 170V470Q1060 540 1035 578M1062 170H1168V580M1062 292H1168M1062 402H1168" stroke-width="44"/>
</g>
</svg>
<div id="src">Source: Coinglass</div>
<div id="tf">TechFlow</div>
</body></html>
